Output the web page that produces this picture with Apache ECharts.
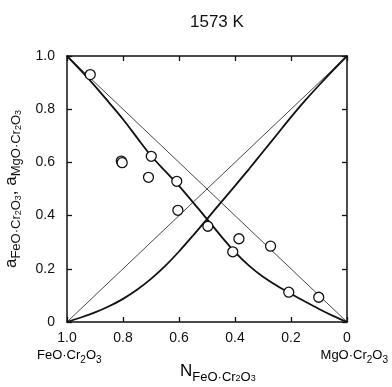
<!DOCTYPE html>
<html>
<head>
<meta charset="utf-8">
<script src="https://cdn.jsdelivr.net/npm/echarts@6/dist/echarts.min.js"></script>
<style>html,body{margin:0;padding:0;background:#fff;}#c{width:392px;height:387px;}</style>
</head>
<body>
<div id="c"></div>
<script>
// mole fraction N(FeO·Cr2O3) grid for the curves
const curveN = [1.0, 0.95, 0.9, 0.85, 0.8, 0.75, 0.7, 0.65, 0.6, 0.55, 0.5, 0.45, 0.4, 0.35, 0.3, 0.25, 0.2, 0.15, 0.1, 0.05, 0.0];
// activity of FeO·Cr2O3 (thick curve)
const aFeO = [1.0, 0.945, 0.887, 0.825, 0.762, 0.693, 0.625, 0.568, 0.512, 0.45, 0.387, 0.323, 0.263, 0.212, 0.17, 0.136, 0.106, 0.077, 0.049, 0.023, 0.0];
// activity of MgO·Cr2O3 (thick curve)
const aMgO = [0.0, 0.017, 0.036, 0.059, 0.087, 0.121, 0.162, 0.21, 0.265, 0.325, 0.387, 0.45, 0.512, 0.575, 0.64, 0.705, 0.77, 0.832, 0.89, 0.946, 1.0];
// ideal (Raoult) lines
const idealFeO = [[1, 1], [0, 0]];
const idealMgO = [[1, 0], [0, 1]];
// measured points
const ptN = [0.917, 0.806, 0.803, 0.699, 0.709, 0.608, 0.604, 0.497, 0.386, 0.408, 0.273, 0.208, 0.101];
const ptA = [0.930, 0.605, 0.599, 0.623, 0.544, 0.529, 0.420, 0.360, 0.313, 0.264, 0.285, 0.112, 0.093];
// tick labels
const tickValues = [0, 0.2, 0.4, 0.6, 0.8, 1.0];
const tickLabels = ['0', '0.2', '0.4', '0.6', '0.8', '1.0'];

const FONT = 'Liberation Sans';
const fmt = v => { const i = tickValues.findIndex(t => Math.abs(t - v) < 1e-6); return i >= 0 ? tickLabels[i] : ''; };

const lineBlack = { color: '#111', width: 1.5 };
const baseAxis = (extra) => Object.assign({
  type: 'value', min: 0, max: 1, interval: 0.2,
  axisLine: { show: true, onZero: false, lineStyle: lineBlack },
  axisTick: { show: true, inside: true, length: 5, lineStyle: { color: '#111', width: 1.3 } },
  splitLine: { show: false },
  axisLabel: { show: false }
}, extra);

const chart = echarts.init(document.getElementById('c'));
const rich = {
  m: { fontFamily: FONT, fontSize: 17, color: '#111', verticalAlign: 'middle', lineHeight: 24 },
  s: { fontFamily: FONT, fontSize: 13, color: '#111', verticalAlign: 'bottom', lineHeight: 17 },
  ss: { fontFamily: FONT, fontSize: 9, color: '#111', verticalAlign: 'bottom', lineHeight: 9 }
};
const richB = {
  m: { fontFamily: FONT, fontSize: 13, color: '#111', verticalAlign: 'middle', lineHeight: 20 },
  s: { fontFamily: FONT, fontSize: 10, color: '#111', verticalAlign: 'bottom', lineHeight: 12 }
};

chart.setOption({
  animation: false,
  backgroundColor: '#fff',
  title: { text: '1573 K', left: 185, top: 9,
    textStyle: { fontFamily: FONT, fontSize: 17, fontWeight: 'normal', color: '#111' } },
  grid: { left: 67, top: 56, width: 280, height: 266, outerBoundsMode: 'none', containLabel: false },
  xAxis: [
    baseAxis({ inverse: true, position: 'bottom',
      axisLabel: { show: true, formatter: fmt, margin: 9, fontFamily: FONT, fontSize: 14, color: '#111' } }),
    baseAxis({ inverse: true, position: 'top' })
  ],
  yAxis: [
    baseAxis({ position: 'left',
      axisLabel: { show: true, formatter: fmt, margin: 12, fontFamily: FONT, fontSize: 14, color: '#111' },
      name: '{m|a}{s|FeO·Cr}{ss|2}{s|O}{ss|3}{m|, a}{s|MgO·Cr}{ss|2}{s|O}{ss|3}',
      nameLocation: 'middle', nameRotate: 90, nameGap: 44,
      nameTextStyle: { rich: rich } }),
    baseAxis({ position: 'right' })
  ],
  graphic: [
    { type: 'text', left: 37, top: 349, style: { text: '{m|FeO·Cr}{s|2}{m|O}{s|3}', rich: richB } },
    { type: 'text', right: 4, top: 349, style: { text: '{m|MgO·Cr}{s|2}{m|O}{s|3}', rich: richB } },
    { type: 'text', left: 180, top: 363, style: { text: '{m|N}{s|FeO·Cr}{ss|2}{s|O}{ss|3}', rich: rich } }
  ],
  series: [
    { type: 'line', data: idealFeO, symbol: 'none', lineStyle: { color: '#333', width: 0.9 }, z: 2 },
    { type: 'line', data: idealMgO, symbol: 'none', lineStyle: { color: '#333', width: 0.9 }, z: 2 },
    { type: 'line', data: curveN.map((n, i) => [n, aFeO[i]]), symbol: 'none', smooth: 0.3,
      lineStyle: { color: '#111', width: 1.8 }, z: 3 },
    { type: 'line', data: curveN.map((n, i) => [n, aMgO[i]]), symbol: 'none', smooth: 0.3,
      lineStyle: { color: '#111', width: 1.8 }, z: 3 },
    { type: 'scatter', data: ptN.map((n, i) => [n, ptA[i]]), symbol: 'circle', symbolSize: 10,
      itemStyle: { color: '#fff', borderColor: '#111', borderWidth: 1.3, opacity: 1 }, z: 5 }
  ]
});
</script>
</body>
</html>
